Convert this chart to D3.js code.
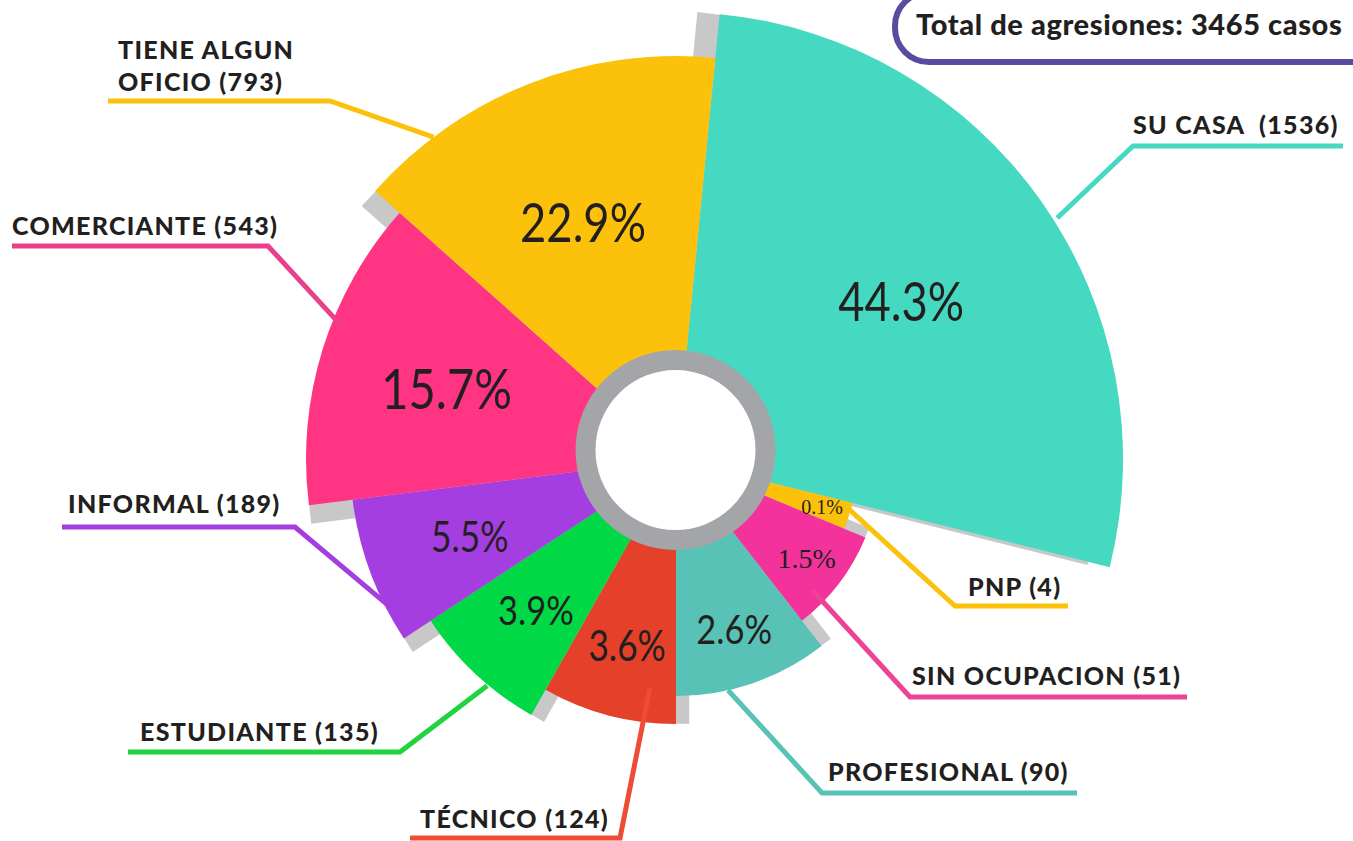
<!DOCTYPE html>
<html><head><meta charset="utf-8">
<script src="https://cdn.jsdelivr.net/npm/d3@7"></script>
<style>body{margin:0;background:#fff;} svg{display:block;} text{white-space:pre;}</style>
</head><body>
<svg id="chart" width="1353" height="841"></svg>
<script>
// ---- data ----
const categories = ["SU CASA ", "PNP", "SIN OCUPACION", "PROFESIONAL", "TÉCNICO", "ESTUDIANTE", "INFORMAL", "COMERCIANTE", "TIENE ALGUN OFICIO"];
const counts = [1536, 4, 51, 90, 124, 135, 189, 543, 793];
const percentLabels = ["44.3%", "0.1%", "1.5%", "2.6%", "3.6%", "3.9%", "5.5%", "15.7%", "22.9%"];
const totalLabel = "Total de agresiones: 3465 casos";

// ---- design (layout / style) ----
const startDeg = 5.6;
const sweepDeg = [98.4, 8.5, 29.6, 37.9, 29.5, 27.1, 26.2, 48.9, 53.9];
const outerR = [447, 182, 205, 237, 265, 294, 326, 370, 403];
const colors = ["#45D9C1", "#FCC20B", "#F4329B", "#57C2B5", "#E54029", "#01D845", "#A53EE0", "#FF3482", "#FCC20B"];
const leaderColors = ["#45D9C1", "#FCC20B", "#EC4396", "#57C2B5", "#EE4C36", "#1FD43F", "#A33FE0", "#E8408A", "#FCC20B"];
const pctSize = [54, 20, 28, 41, 42, 41, 42, 56, 54];
const pctSerif = [false, true, true, false, false, false, false, false, false];
// leader: start [angleDeg, radius], elbow [x,y], end [x,y]; label anchor [x,y]
const leaderStart = [[57.7, 451], [106, 179], [133.9, 189], [167.3, 237], [186.5, 230], [219.8, 295], [243.1, 323], [292, 364], [323, 403]];
const leaderElbow = [[1133, 146], [955, 606], [910, 697], [822, 793], [620, 838], [400, 752], [295, 527], [268, 246], [330, 101]];
const leaderEnd = [[1343, 146], [1068, 606], [1187, 697], [1077, 793], [410, 838], [128, 752], [62, 527], [12, 246], [108, 101]];
const labelPos = [[1133, 134], [968, 596], [912, 685], [828, 781], [420, 828], [140, 741], [68, 513], [12, 235], [118, 59]];

const pieCenter = [676, 459];
const ringCenter = [675.5, 450];

const svg = d3.select("#chart");
const rad = d => d * Math.PI / 180;

// build slices
let acc = startDeg;
const slices = categories.map((c, i) => {
  const s = acc; acc += sweepDeg[i];
  return { i, name: c, count: counts[i], pct: percentLabels[i], a0: rad(s), a1: rad(acc), r: outerR[i] };
});

const color = d3.scaleOrdinal().domain(categories).range(colors);
const arc = d3.arc().innerRadius(0).outerRadius(d => d.r).startAngle(d => d.a0).endAngle(d => d.a1);

const g = svg.append("g").attr("transform", `translate(${pieCenter})`);

// shadows: each slice translated tangentially (counter-clockwise) at its start edge
g.append("g").selectAll("path").data(slices).join("path")
  .attr("d", arc)
  .attr("fill", "#C8C8C8")
  .attr("transform", d => {
    const off = 0.05 * d.r;
    return `translate(${-Math.cos(d.a0) * off},${-Math.sin(d.a0) * off})`;
  });

g.append("g").selectAll("path").data(slices).join("path")
  .attr("d", arc)
  .attr("fill", d => color(d.name));

// ring
svg.append("circle").attr("cx", ringCenter[0]).attr("cy", ringCenter[1])
  .attr("r", 90).attr("fill", "#fff").attr("stroke", "#A4A5A9").attr("stroke-width", 20);

// leader lines
const line = d3.line();
svg.append("g").selectAll("path").data(slices).join("path")
  .attr("d", d => {
    const p = d3.pointRadial(rad(leaderStart[d.i][0]), leaderStart[d.i][1]);
    return line([[p[0] + pieCenter[0], p[1] + pieCenter[1]], leaderElbow[d.i], leaderEnd[d.i]]);
  })
  .attr("fill", "none").attr("stroke", d => leaderColors[d.i]).attr("stroke-width", 5)
  .attr("stroke-linejoin", "miter");

// percent labels
g.append("g").selectAll("text").data(slices).join("text")
  .attr("transform", d => {
    const p = d3.pointRadial((d.a0 + d.a1) / 2, 70 + 0.46 * d.r);
    return `translate(${p}) scale(${pctSerif[d.i] ? 1 : 0.84},1)`;
  })
  .attr("text-anchor", "middle").attr("dominant-baseline", "central")
  .attr("font-family", d => pctSerif[d.i] ? "Liberation Serif, serif" : "Lato, sans-serif")
  .attr("font-size", d => pctSize[d.i])
  .attr("fill", "#231F20")
  .text(d => d.pct);

// category labels
const lab = svg.append("g").selectAll("text").data(slices).join("text")
  .attr("x", d => labelPos[d.i][0]).attr("y", d => labelPos[d.i][1])
  .attr("font-family", "Lato, sans-serif").attr("font-weight", 900)
  .attr("font-size", 25).attr("letter-spacing", 1.3).attr("fill", "#231F20");
lab.each(function (d) {
  const full = `${d.name} (${d.count})`;
  const t = d3.select(this);
  if (d.name === "TIENE ALGUN OFICIO") {
    t.append("tspan").attr("x", labelPos[d.i][0]).text("TIENE ALGUN");
    t.append("tspan").attr("x", labelPos[d.i][0]).attr("dy", 32).text(`OFICIO (${d.count})`);
  } else t.text(full);
});

// total box
svg.append("rect").attr("x", 895).attr("y", -8).attr("width", 520).attr("height", 70).attr("rx", 34)
  .attr("fill", "#fff").attr("stroke", "#5A4AA0").attr("stroke-width", 6);
svg.append("text").attr("x", 916).attr("y", 35)
  .attr("font-family", "Lato, sans-serif").attr("font-weight", 900).attr("font-size", 29)
  .attr("letter-spacing", 0.6)
  .attr("fill", "#231F20").text(totalLabel);
</script>
</body></html>
